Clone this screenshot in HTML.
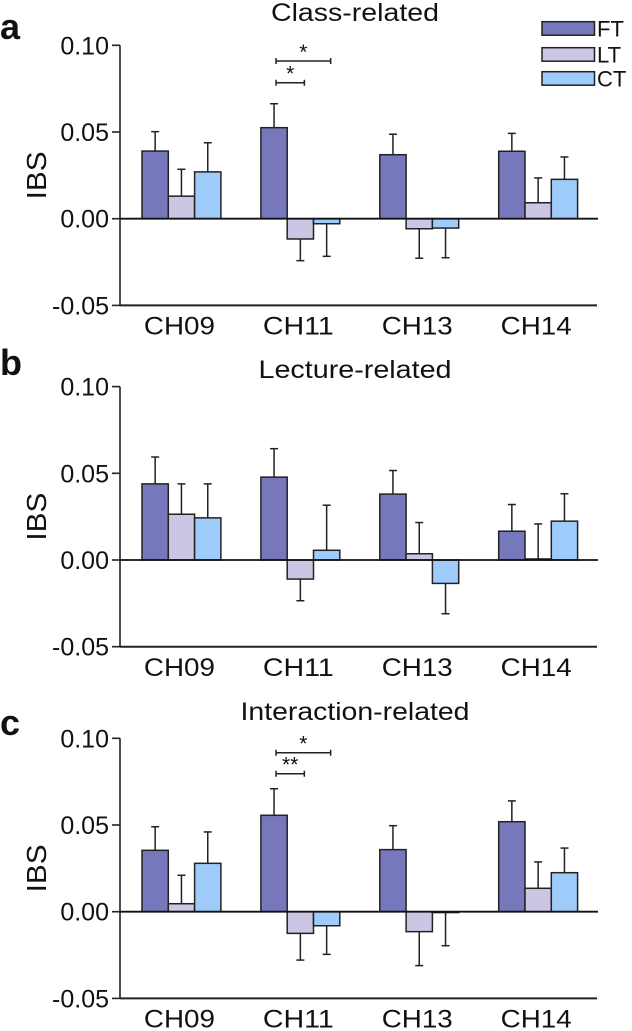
<!DOCTYPE html>
<html><head><meta charset="utf-8"><style>
html,body{margin:0;padding:0;background:#fff;}
svg{display:block;font-family:"Liberation Sans",Arial,sans-serif;}
</style></head><body>
<svg id="fig" width="632" height="1031" viewBox="0 0 632 1031" xmlns="http://www.w3.org/2000/svg"></svg>
<script>
const categories = ["CH09","CH11","CH13","CH14"];
const seriesNames = ["FT","LT","CT"];
const yTicks = [0.10,0.05,0.00,-0.05];
const yTickLabels = ["0.10","0.05","0.00","-0.05"];
const panelTitles = ["Class-related","Lecture-related","Interaction-related"];
const panelLetters = ["a","b","c"];
// panel a
const aFT = [0.039,0.0525,0.0369,0.0389];
const aFTerr = [0.0502,0.0663,0.0487,0.0492];
const aLT = [0.013,-0.0117,-0.0058,0.0092];
const aLTerr = [0.0285,-0.0242,-0.0228,0.0235];
const aCT = [0.027,-0.0029,-0.0054,0.0227];
const aCTerr = [0.0438,-0.0217,-0.0225,0.0356];
// panel b
const bFT = [0.0439,0.0478,0.038,0.0166];
const bFTerr = [0.0594,0.0642,0.0516,0.032];
const bLT = [0.0264,-0.011,0.0036,0.0006];
const bLTerr = [0.0439,-0.0235,0.0216,0.0208];
const bCT = [0.0243,0.0056,-0.0135,0.0224];
const bCTerr = [0.0439,0.0316,-0.031,0.0382];
// panel c
const cFT = [0.0354,0.0556,0.0358,0.0519];
const cFTerr = [0.049,0.0709,0.0496,0.0639];
const cLT = [0.0046,-0.0125,-0.0115,0.0135];
const cLTerr = [0.021,-0.0279,-0.0311,0.0287];
const cCT = [0.0279,-0.0081,-0.0005,0.0225];
const cCTerr = [0.046,-0.0246,-0.0196,0.0367];
// significance: [category index, target series index, label]
const aSig = [[1,2,"*"],[1,1,"*"]];
const bSig = [];
const cSig = [[1,2,"*"],[1,1,"**"]];

const colors = ["#7777bb","#ccc6e4","#9fcbfb"];
const titleLengths = [168,193,229];
const NS = "http://www.w3.org/2000/svg";
const svg = document.getElementById("fig");
function el(tag, attrs, parent){
  const e = document.createElementNS(NS, tag);
  for (const k in attrs) e.setAttribute(k, attrs[k]);
  (parent||svg).appendChild(e);
  return e;
}
const panels = [
  {y0:218.7, titleY:21, letterY:39, data:[aFT,aLT,aCT], err:[aFTerr,aLTerr,aCTerr], sig:aSig, sigY:[61,82.7]},
  {y0:560, titleY:378, letterY:375, data:[bFT,bLT,bCT], err:[bFTerr,bLTerr,bCTerr], sig:bSig, sigY:[]},
  {y0:911.7, titleY:720, letterY:735, data:[cFT,cLT,cCT], err:[cFTerr,cLTerr,cCTerr], sig:cSig, sigY:[752.7,773.7]}
];
const pxPerUnit = 1734;
const axisX = 120, axisR = 598;
const groupStart = 142, groupStep = 118.9, barW = 26.3;
function xBar(ci, si){ return groupStart + ci*groupStep + si*barW; }

panels.forEach((p, pi) => {
  const yScale = v => p.y0 - v*pxPerUnit;
  const g = el("g", {});
  
  
  const letter = el("text", {x:0, y:p.letterY, "font-size":36, "font-weight":"bold", fill:"#111"}, g);
  letter.textContent = panelLetters[pi];
  
  
  const title = el("text", {x:355, y:p.titleY, "font-size":25, "text-anchor":"middle", fill:"#111",
    textLength:titleLengths[pi], lengthAdjust:"spacingAndGlyphs"}, g);
  title.textContent = panelTitles[pi];
  
  
  const yl = el("text", {x:0, y:0, "font-size":28, "text-anchor":"middle", fill:"#111",
    textLength:48, lengthAdjust:"spacingAndGlyphs",
    transform:"translate(46," + (yScale(0.025)) + ") rotate(-90)"}, g);
  yl.textContent = "IBS";
  
  
  const ya = el("line", {x1:axisX, x2:axisX, y1:yScale(0.10), y2:yScale(-0.05), stroke:"#222", "stroke-width":1.6}, g);
  
  
  yTicks.forEach((t, ti) => {
    const tk = el("line", {x1:axisX-8, x2:axisX, y1:yScale(t), y2:yScale(t), stroke:"#222", "stroke-width":1.6}, g);
    
    
    const tl = el("text", {x:axisX-11, y:yScale(t)+9, "font-size":25, "text-anchor":"end", fill:"#111"}, g);
    tl.textContent = yTickLabels[ti];
    
    
  });
  const xa = el("line", {x1:axisX, x2:axisR-1, y1:yScale(-0.05), y2:yScale(-0.05), stroke:"#222", "stroke-width":2}, g);
  
  
  categories.forEach((c, ci) => {
    const xl = el("text", {x:xBar(ci,0)+1.5*barW-2, y:p.y0+116, "font-size":25, "text-anchor":"middle", fill:"#111",
      textLength:71, lengthAdjust:"spacingAndGlyphs"}, g);
    xl.textContent = c;
    
    
  });
  seriesNames.forEach((s, si) => {
    categories.forEach((c, ci) => {
      const v = p.data[si][ci], e = p.err[si][ci];
      const cx = xBar(ci,si) + barW/2;
      const eb = el("polyline", {points:(cx-4)+","+yScale(e)+" "+(cx+4)+","+yScale(e), stroke:"#222", "stroke-width":1.5, fill:"none"}, g);
      
      
      const ev = el("line", {x1:cx, x2:cx, y1:yScale(v), y2:yScale(e), stroke:"#222", "stroke-width":1.5}, g);
      
      
      const top = Math.min(yScale(v), yScale(0)), h = Math.abs(yScale(v)-yScale(0));
      const r = el("rect", {x:xBar(ci,si), y:top, width:barW, height:h, fill:colors[si], stroke:"#222", "stroke-width":1.5}, g);
      
      
    });
  });
  const zl = el("line", {x1:axisX, x2:axisR, y1:p.y0, y2:p.y0, stroke:"#111", "stroke-width":1.8}, g);
  
  
  p.sig.forEach((sg, k) => {
    const x1 = xBar(sg[0],0) + barW/2 + 2, x2 = xBar(sg[0],sg[1]) + barW/2 + 4;
    const y = p.sigY[k];
    const br = el("path", {d:"M"+x1+","+(y-3)+"V"+(y+3)+"M"+x1+","+y+"H"+x2+"M"+x2+","+(y-3)+"V"+(y+3), stroke:"#222", "stroke-width":1.5, fill:"none"}, g);
    
    
    const st = el("text", {x:(x1+x2)/2, y:y-2, "font-size":21, "text-anchor":"middle", fill:"#111"}, g);
    st.textContent = sg[2];
    
    
  });
});
const legY = [21.7, 47.7, 71.7];
seriesNames.forEach((s, si) => {
  const lr = el("rect", {x:542, y:legY[si], width:52.5, height:13.5, fill:colors[si], stroke:"#222", "stroke-width":1.5});
  
  
  const lt = el("text", {x:597, y:legY[si]+15, "font-size":22, fill:"#111"});
  lt.textContent = s;
  
  
});
</script>
</body></html>
